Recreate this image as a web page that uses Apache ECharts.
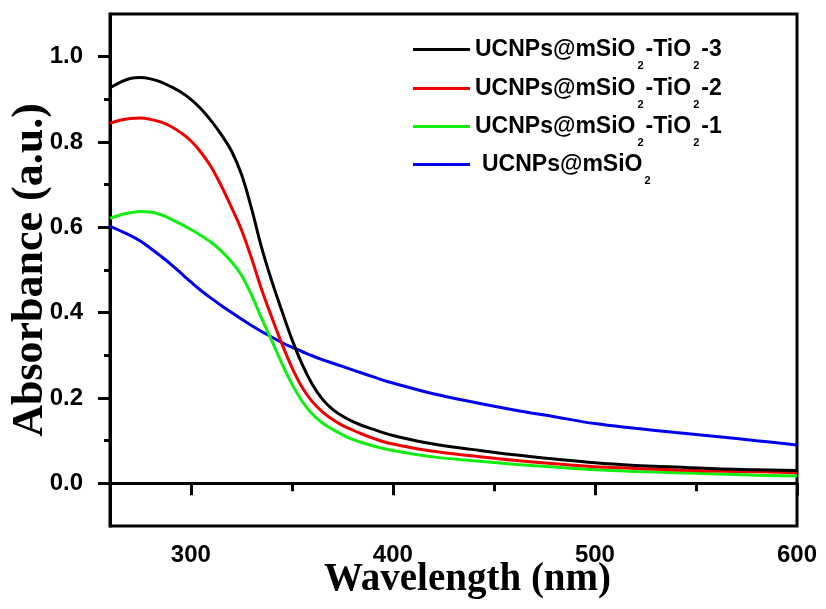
<!DOCTYPE html>
<html lang="en" style="height: 100%">
<head>
  <meta charset="utf-8">
</head>
<body style="height: 100%; margin: 0; background: #fff">
  <div id="container" style="width: 826px; height: 609px"></div>

  <script type="text/javascript" src="https://fastly.jsdelivr.net/npm/echarts@6/dist/echarts.min.js"></script>
  <script type="text/javascript">
    // wavelength (nm), shared by all four spectra
    var wavelengths = [260, 265, 270, 275, 280, 285, 290, 295, 300, 305, 310, 315, 320, 325, 330,
      335, 340, 345, 350, 355, 360, 365, 370, 375, 380, 385, 390, 395, 400,
      420, 440, 460, 480, 500, 520, 540, 560, 580, 600];

    var tio2_3 = [0.927, 0.940, 0.949, 0.951, 0.948, 0.941, 0.930, 0.917, 0.900, 0.878, 0.850, 0.818, 0.780, 0.725, 0.645,
      0.553, 0.475, 0.405, 0.338, 0.280, 0.233, 0.198, 0.174, 0.158, 0.145, 0.135, 0.127, 0.119, 0.112,
      0.092, 0.079, 0.067, 0.057, 0.048, 0.042, 0.038, 0.034, 0.032, 0.030];
    var tio2_2 = [0.844, 0.851, 0.855, 0.856, 0.853, 0.847, 0.837, 0.822, 0.803, 0.776, 0.742, 0.698, 0.648, 0.595, 0.528,
      0.455, 0.390, 0.328, 0.272, 0.226, 0.192, 0.168, 0.150, 0.136, 0.125, 0.115, 0.106, 0.098, 0.092,
      0.075, 0.064, 0.054, 0.046, 0.039, 0.035, 0.031, 0.029, 0.027, 0.025];
    var tio2_1 = [0.621, 0.629, 0.634, 0.637, 0.636, 0.630, 0.620, 0.608, 0.595, 0.581, 0.565, 0.545, 0.520, 0.488, 0.442,
      0.387, 0.335, 0.282, 0.233, 0.193, 0.163, 0.142, 0.127, 0.114, 0.103, 0.095, 0.088, 0.082, 0.077,
      0.062, 0.053, 0.045, 0.038, 0.032, 0.028, 0.025, 0.022, 0.019, 0.017];
    var msio2 = [0.602, 0.592, 0.581, 0.568, 0.551, 0.533, 0.514, 0.493, 0.472, 0.452, 0.434, 0.417, 0.401, 0.385, 0.370,
      0.356, 0.343, 0.330, 0.319, 0.309, 0.299, 0.290, 0.282, 0.274, 0.266, 0.258, 0.250, 0.242, 0.235,
      0.210, 0.190, 0.172, 0.156, 0.140, 0.129, 0.119, 0.110, 0.100, 0.090];

    var seriesNames = ['UCNPs@mSiO2-TiO2-3', 'UCNPs@mSiO2-TiO2-2', 'UCNPs@mSiO2-TiO2-1', 'UCNPs@mSiO2'];
    var seriesValues = [tio2_3, tio2_2, tio2_1, msio2];
    var seriesColors = ['#000000', '#ee0000', '#11ee11', '#0000ee'];

    var xMajorTicks = [300, 400, 500, 600];
    var xMinorTicks = [350, 450, 550];
    var yMajorTicks = [0, 0.2, 0.4, 0.6, 0.8, 1.0];
    var yMinorTicks = [0.1, 0.3, 0.5, 0.7, 0.9];

    var SANS = 'Liberation Sans';
    var SERIF = 'Liberation Serif';

    var dom = document.getElementById('container');
    var myChart = echarts.init(dom, null, { renderer: 'canvas' });

    function pairs(values) {
      return wavelengths.map(function (w, i) { return [w, values[i]]; });
    }

    // legend text: the 2 after each O is a subscript
    function legendLabel(name) {
      var out = '{a|' + name.split('O2').join('O}{s|2}{a|') + '}';
      out = out.replace('{a|}', '');
      if (name === 'UCNPs@mSiO2') out = '{p|}' + out;
      return out;
    }

    var legendRich = {
      a: { fontFamily: SANS, fontWeight: 'bold', fontSize: 23, color: '#000' },
      s: { fontFamily: SANS, fontWeight: 'bold', fontSize: 11, color: '#000', padding: [32, 2, 0, 2] },
      p: { width: 7 }
    };

    var legendTops = [38, 77, 115, 153];

    var option = {
      animation: false,
      backgroundColor: '#fff',
      grid: {
        left: 110, right: 29, top: 14, bottom: 83,
        outerBoundsMode: 'none',
        containLabel: false,
        show: true, borderColor: '#000', borderWidth: 3
      },
      legend: seriesNames.map(function (name, i) {
        return {
          data: [name],
          left: 413,
          top: legendTops[i],
          padding: 0,
          icon: 'rect',
          itemWidth: 57,
          itemHeight: 3,
          selectedMode: false,
          formatter: legendLabel,
          textStyle: { rich: legendRich }
        };
      }),
      xAxis: [{
        type: 'value',
        position: 'bottom',
        min: 260,
        max: 600,
        name: 'Wavelength (nm)',
        nameLocation: 'middle',
        nameGap: 34,
        nameMoveOverlap: false,
        nameTextStyle: {
          fontFamily: SERIF, fontWeight: 'bold', fontSize: 39, color: '#000',
          padding: [0, 0, 0, 28]
        },
        axisLine: { show: true, lineStyle: { color: '#000', width: 3 } },
        axisTick: { show: true, inside: false, length: 12, customValues: xMajorTicks,
          lineStyle: { color: '#000', width: 3 } },
        axisLabel: { customValues: xMajorTicks, margin: 17, color: '#000',
          fontFamily: SANS, fontWeight: 'bold', fontSize: 24 },
        splitLine: { show: false }
      }, {
        type: 'value',
        position: 'bottom',
        min: 260,
        max: 600,
        axisLine: { show: false },
        axisTick: { show: true, inside: false, length: 8, customValues: xMinorTicks,
          lineStyle: { color: '#000', width: 3 } },
        axisLabel: { show: false },
        splitLine: { show: false }
      }],
      yAxis: [{
        type: 'value',
        position: 'left',
        min: -0.1,
        max: 1.1,
        name: 'Absorbance (a.u.)',
        nameLocation: 'middle',
        nameRotate: 90,
        nameGap: 57,
        nameMoveOverlap: false,
        nameTextStyle: { fontFamily: SERIF, fontWeight: 'bold', fontSize: 44, color: '#000' },
        axisLine: { show: true, lineStyle: { color: '#000', width: 3 } },
        axisTick: { show: true, inside: false, length: 12, customValues: yMajorTicks,
          lineStyle: { color: '#000', width: 3 } },
        axisLabel: {
          customValues: yMajorTicks, margin: 27, color: '#000',
          fontFamily: SANS, fontWeight: 'bold', fontSize: 24,
          formatter: function (v) { return v.toFixed(1); }
        },
        splitLine: { show: false }
      }, {
        type: 'value',
        position: 'left',
        min: -0.1,
        max: 1.1,
        axisLine: { show: false },
        axisTick: { show: true, inside: false, length: 6, customValues: yMinorTicks,
          lineStyle: { color: '#000', width: 3 } },
        axisLabel: { show: false },
        splitLine: { show: false }
      }],
      series: seriesNames.map(function (name, i) {
        return {
          name: name,
          type: 'line',
          xAxisIndex: 0,
          yAxisIndex: 0,
          symbol: 'none',
          smooth: 0.4,
          lineStyle: { color: seriesColors[i], width: 3 },
          itemStyle: { color: seriesColors[i] },
          z: 10 - i,
          data: pairs(seriesValues[i])
        };
      })
    };

    myChart.setOption(option);
    window.addEventListener('resize', myChart.resize);
  </script>
</body>
</html>
